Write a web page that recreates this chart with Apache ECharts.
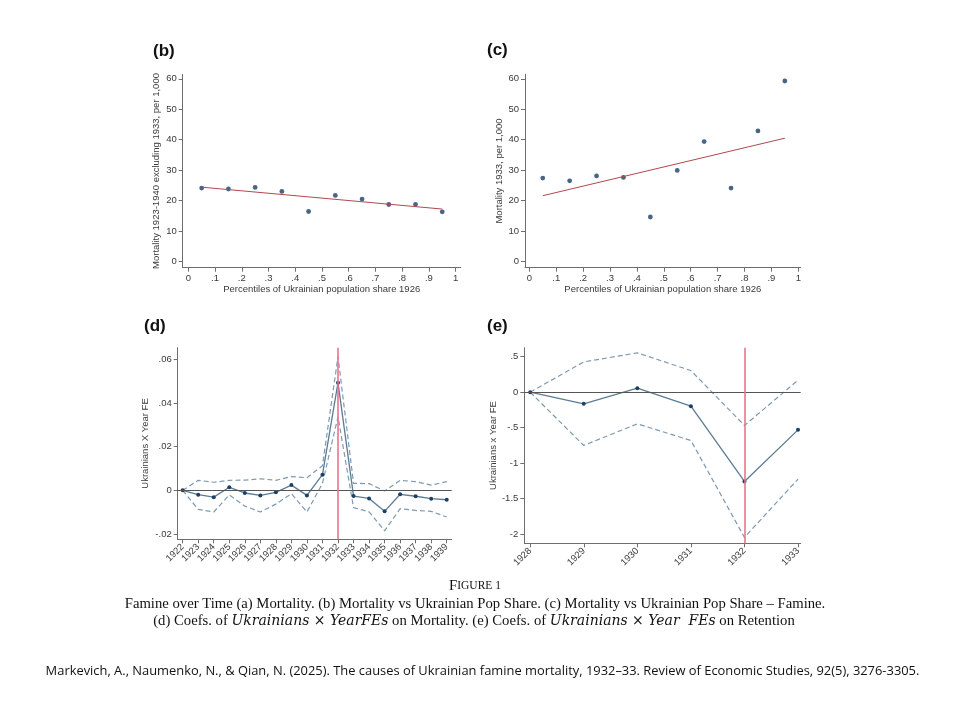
<!DOCTYPE html>
<html><head><meta charset="utf-8">
<script src="https://cdn.jsdelivr.net/npm/echarts@6/dist/echarts.min.js"></script>
<style>html,body{margin:0;padding:0;background:#fff}#c{width:960px;height:720px}</style>
</head><body><div id="c"></div>
<script>
// ---- data ----
var pctX = [0.05, 0.15, 0.25, 0.35, 0.45, 0.55, 0.65, 0.75, 0.85, 0.95];
var mortExcl1933 = [24.1, 23.8, 24.3, 23.0, 16.4, 21.7, 20.5, 18.7, 18.7, 16.3];
var fitBX = [0.05, 0.95];
var fitBY = [24.4, 17.2];
var mort1933 = [27.4, 26.5, 28.1, 27.6, 14.6, 29.9, 39.4, 24.1, 42.9, 59.3];
var fitCX = [0.05, 0.95];
var fitCY = [21.6, 40.5];
var pctTicks = [0, 0.1, 0.2, 0.3, 0.4, 0.5, 0.6, 0.7, 0.8, 0.9, 1];
var mortTicks = [0, 10, 20, 30, 40, 50, 60];

var yearsD = [1922,1923,1924,1925,1926,1927,1928,1929,1930,1931,1932,1933,1934,1935,1936,1937,1938,1939];
var coefD = [0, -0.0020, -0.0031, 0.0014, -0.0012, -0.0023, -0.0009, 0.0024, -0.0023, 0.0072, 0.0493, -0.0026, -0.0037, -0.0096, -0.0018, -0.0027, -0.0038, -0.0043];
var upperD = [0, 0.0046, 0.0037, 0.0046, 0.0047, 0.0053, 0.0046, 0.0063, 0.0058, 0.0113, 0.0612, 0.0032, 0.0031, -0.0003, 0.0046, 0.0040, 0.0024, 0.0040];
var lowerD = [0, -0.0087, -0.0099, -0.0021, -0.0072, -0.0099, -0.0063, -0.0015, -0.0099, 0.0032, 0.0337, -0.0079, -0.0098, -0.0185, -0.0084, -0.0092, -0.0096, -0.0122];
var ticksD = [-0.02, 0, 0.02, 0.04, 0.06];

var yearsE = [1928, 1929, 1930, 1931, 1932, 1933];
var coefE = [0, -0.164, 0.056, -0.197, -1.258, -0.531];
var upperE = [0, 0.427, 0.554, 0.305, -0.469, 0.169];
var lowerE = [0, -0.751, -0.446, -0.681, -2.047, -1.225];
var ticksE = [-2, -1.5, -1, -0.5, 0, 0.5];
var famineYear = 1932;

// ---- helpers ----
function pairs(xs, ys) { return xs.map(function (x, i) { return [x, ys[i]]; }); }
function decFmt(v) {
  if (v === 0) return '0';
  var s = String(Math.abs(Math.round(v * 10000) / 10000)).replace(/^0(?=\.)/, '');
  return (v < 0 ? '-' : '') + s;
}
var AX = '#6e6e6e', TXT = '#3a3a3a', FONT = 'Liberation Sans';
var navy = '#1c3f66', lineC = '#5c7c93', ciC = '#7d9ab0', fitC = '#b3474f', redV = '#e8758d';

function valAxis(o) {
  return {
    type: 'value', gridIndex: o.grid, min: o.min, max: o.max,
    name: o.name || '', nameLocation: 'middle', nameGap: o.nameGap || 20,
    nameTextStyle: { fontFamily: FONT, fontSize: 9.5, color: TXT },
    axisLine: { show: true, onZero: false, lineStyle: { color: AX, width: 1 } },
    axisTick: { show: true, length: 4, customValues: o.ticks, lineStyle: { color: AX } },
    axisLabel: { customValues: o.ticks, formatter: o.fmt, fontFamily: FONT, fontSize: 9.5, color: TXT, margin: o.margin || 6, rotate: o.rotate || 0 },
    splitLine: { show: false }
  };
}

var chart = echarts.init(document.getElementById('c'), null, { renderer: 'canvas' });
var option = {
  backgroundColor: '#fff',
  animation: false,
  grid: [
    { left: 182.7, top: 74.3, width: 278, height: 193.4 },
    { left: 525, top: 74.3, width: 275.7, height: 193.4 },
    { left: 177.7, top: 347.7, width: 274, height: 191.6 },
    { left: 524.3, top: 347.7, width: 276.4, height: 195.6 }
  ],
  xAxis: [
    valAxis({ grid: 0, min: -0.021, max: 1.019, ticks: pctTicks, fmt: decFmt, name: 'Percentiles of Ukrainian population share 1926', nameGap: 16 }),
    valAxis({ grid: 1, min: -0.016, max: 1.009, ticks: pctTicks, fmt: decFmt, name: 'Percentiles of Ukrainian population share 1926', nameGap: 16 }),
    valAxis({ grid: 2, min: 1921.68, max: 1939.32, ticks: yearsD, fmt: function (v) { return String(v); }, rotate: 45, margin: 6 }),
    valAxis({ grid: 3, min: 1927.89, max: 1933.05, ticks: yearsE, fmt: function (v) { return String(v); }, rotate: 45, margin: 6 })
  ],
  yAxis: [
    valAxis({ grid: 0, min: -2.07, max: 61.5, ticks: mortTicks, fmt: function (v) { return String(v); }, name: 'Mortality 1923-1940 excluding 1933, per 1,000', nameGap: 21 }),
    valAxis({ grid: 1, min: -2.07, max: 61.5, ticks: mortTicks, fmt: function (v) { return String(v); }, name: 'Mortality 1933, per 1,000', nameGap: 21 }),
    valAxis({ grid: 2, min: -0.0224, max: 0.0653, ticks: ticksD, fmt: decFmt, name: 'Ukrainians X Year FE', nameGap: 27 }),
    valAxis({ grid: 3, min: -2.13, max: 0.627, ticks: ticksE, fmt: decFmt, name: 'Ukrainians x Year FE', nameGap: 26 })
  ],
  series: [
    { type: 'line', xAxisIndex: 0, yAxisIndex: 0, data: pairs(fitBX, fitBY), showSymbol: false, symbol: 'none', lineStyle: { color: fitC, width: 1 } },
    { type: 'scatter', xAxisIndex: 0, yAxisIndex: 0, data: pairs(pctX, mortExcl1933), symbolSize: 4.8, itemStyle: { color: navy } },
    { type: 'line', xAxisIndex: 1, yAxisIndex: 1, data: pairs(fitCX, fitCY), showSymbol: false, symbol: 'none', lineStyle: { color: fitC, width: 1 } },
    { type: 'scatter', xAxisIndex: 1, yAxisIndex: 1, data: pairs(pctX, mort1933), symbolSize: 4.8, itemStyle: { color: navy } },
    // panel d
    { type: 'line', xAxisIndex: 2, yAxisIndex: 2, data: pairs(yearsD, upperD), symbol: 'none', lineStyle: { color: ciC, width: 1.2, type: [5, 3] },
      markLine: { silent: true, symbol: 'none', label: { show: false }, data: [{ yAxis: 0, lineStyle: { color: '#555', width: 1, type: 'solid' } }, { xAxis: famineYear, lineStyle: { color: redV, width: 1.6, type: 'solid' } }] } },
    { type: 'line', xAxisIndex: 2, yAxisIndex: 2, data: pairs(yearsD, lowerD), symbol: 'none', lineStyle: { color: ciC, width: 1.2, type: [5, 3] } },
    { type: 'line', xAxisIndex: 2, yAxisIndex: 2, data: pairs(yearsD, coefD), symbol: 'circle', symbolSize: 4, itemStyle: { color: navy }, lineStyle: { color: lineC, width: 1.3 } },
    // panel e
    { type: 'line', xAxisIndex: 3, yAxisIndex: 3, data: pairs(yearsE, upperE), symbol: 'none', lineStyle: { color: ciC, width: 1.2, type: [5, 3] },
      markLine: { silent: true, symbol: 'none', label: { show: false }, data: [{ yAxis: 0, lineStyle: { color: '#555', width: 1, type: 'solid' } }, { xAxis: famineYear, lineStyle: { color: redV, width: 1.6, type: 'solid' } }] } },
    { type: 'line', xAxisIndex: 3, yAxisIndex: 3, data: pairs(yearsE, lowerE), symbol: 'none', lineStyle: { color: ciC, width: 1.2, type: [5, 3] } },
    { type: 'line', xAxisIndex: 3, yAxisIndex: 3, data: pairs(yearsE, coefE), symbol: 'circle', symbolSize: 4, itemStyle: { color: navy }, lineStyle: { color: lineC, width: 1.3 } }
  ],
  graphic: [
    { type: 'text', left: 153, top: 43, style: { text: '(b)', font: 'bold 17px "Liberation Sans"', fill: '#111' } },
    { type: 'text', left: 487, top: 42, style: { text: '(c)', font: 'bold 17px "Liberation Sans"', fill: '#111' } },
    { type: 'text', left: 144, top: 318, style: { text: '(d)', font: 'bold 17px "Liberation Sans"', fill: '#111' } },
    { type: 'text', left: 487, top: 318, style: { text: '(e)', font: 'bold 17px "Liberation Sans"', fill: '#111' } },
    { type: 'text', x: 475, y: 586, style: { text: '{b|F}{s|IGURE 1}', align: 'center', verticalAlign: 'middle',
        rich: { b: { font: '14.7px "Liberation Serif"', fill: '#111' }, s: { font: '11.5px "Liberation Serif"', fill: '#111' } } } },
    { type: 'text', x: 475, y: 604, style: { text: 'Famine over Time (a) Mortality. (b) Mortality vs Ukrainian Pop Share. (c) Mortality vs Ukrainian Pop Share \u2013 Famine.',
        align: 'center', verticalAlign: 'middle', font: '14.7px "Liberation Serif"', fill: '#111' } },
    { type: 'text', x: 474, y: 621, style: { text: '{n|(d) Coefs. of }{i|Ukrainians \u00d7 YearFEs}{n| on Mortality. (e) Coefs. of }{i|Ukrainians \u00d7 Year  FEs}{n| on Retention}',
        align: 'center', verticalAlign: 'middle',
        rich: { n: { font: '14.7px "Liberation Serif"', fill: '#111' }, i: { font: 'italic 14px "DejaVu Serif"', fill: '#111' } } } },
    { type: 'text', x: 482.5, y: 671, style: { text: 'Markevich, A., Naumenko, N., & Qian, N. (2025). The causes of Ukrainian famine mortality, 1932\u201333. Review of Economic Studies, 92(5), 3276-3305.',
        align: 'center', verticalAlign: 'middle', font: '12.9px "Open Sans"', fill: '#111' } }
  ]
};
chart.setOption(option);
</script></body></html>
